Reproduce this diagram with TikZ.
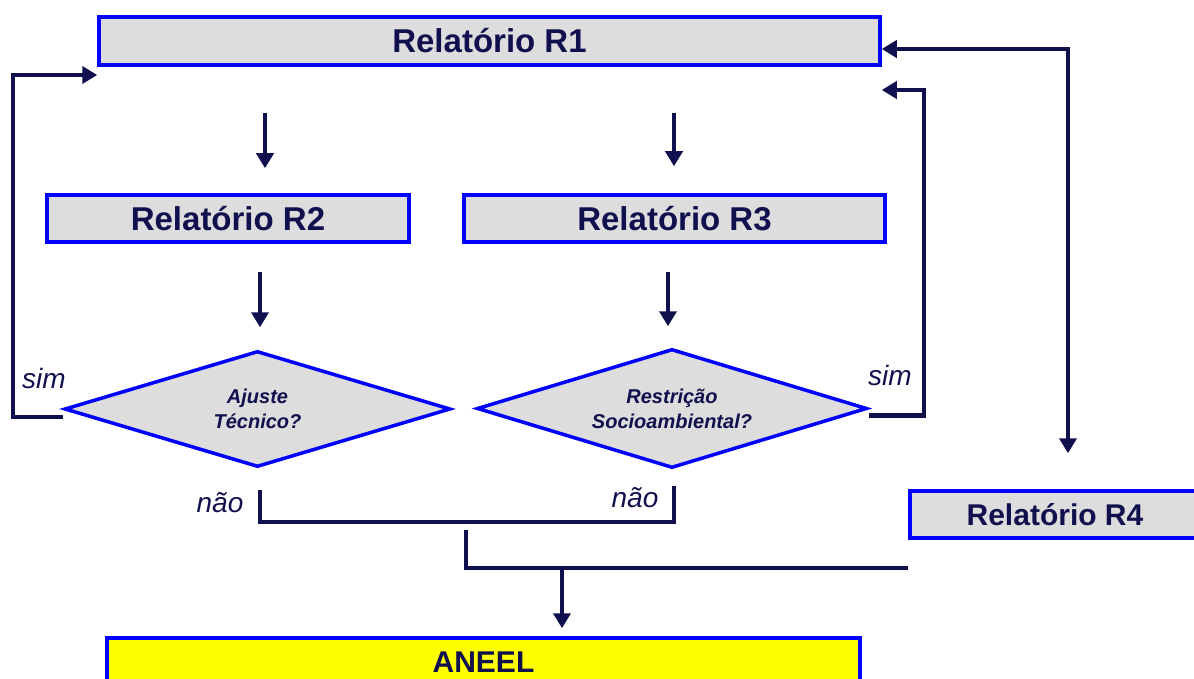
\documentclass[tikz,border=0pt]{standalone}
\usepackage{fontspec}
\setmainfont{Liberation Sans}
\usetikzlibrary{arrows.meta,shapes.geometric}
\definecolor{rpblue}{HTML}{0000FF}
\definecolor{rpnavy}{HTML}{10104E}
\definecolor{rpgray}{HTML}{DDDDDD}
\definecolor{rpyellow}{HTML}{FFFF00}
\tikzset{
  report/.style ={draw=rpblue, fill=rpgray, line width=3.5pt, inner sep=0pt,
                  text=rpnavy, font=\bfseries\fontsize{33}{36}\selectfont},
  final/.style  ={report, fill=rpyellow, font=\bfseries\fontsize{30}{33}\selectfont},
  decide/.style ={diamond, draw=rpblue, fill=rpgray, line width=3.5pt, inner sep=0pt,
                  aspect=3.3, text=rpnavy, align=center,
                  font=\bfseries\itshape\fontsize{20}{25}\selectfont},
  answer/.style ={text=rpnavy, inner sep=0pt, font=\itshape\fontsize{28}{30}\selectfont},
  wire/.style   ={draw=rpnavy, line width=4.5pt},
  flow/.style   ={wire, -{Triangle[length=15pt,width=17pt]}},
  twoway/.style ={wire, {Triangle[length=15pt,width=17pt]}-{Triangle[length=15pt,width=17pt]}},
}

\begin{document}
\begin{tikzpicture}[x=1pt,y=-1pt]
  \useasboundingbox (0,0) rectangle (1194,679);
  \node[report, minimum width=781pt, minimum height=48pt] (r1) at (489.5,41) {Relatório R1};
  \node[report, minimum width=362pt, minimum height=47pt] (r2) at (228,218.5) {Relatório R2};
  \node[report, minimum width=421pt, minimum height=47pt] (r3) at (674.5,218.5) {Relatório R3};
  \node[report, minimum width=290pt, minimum height=47pt,
        font=\bfseries\fontsize{30}{33}\selectfont] (r4) at (1055,514.5) {Relatório R4};
  \node[final, minimum width=753pt, minimum height=48pt] (aneel) at (483.5,662) {ANEEL};
  \node[decide, minimum width=386pt, minimum height=116pt] (d1) at (257.5,409) {Ajuste\\Técnico?};
  \node[decide, minimum width=390pt, minimum height=119pt] (d2) at (672,408.5) {Restrição\\Socioambiental?};
  \node[answer] (s1) at (44,378) {sim};
  \node[answer] (s2) at (890,375) {sim};
  \node[answer] (n1) at (220,503) {não};
  \node[answer] (n2) at (635,498) {não};
  \coordinate (a2) at (265,113);
  \coordinate (a3) at (674,113);
  \coordinate (b2) at (260,272);
  \coordinate (b3) at (668,272);
  \coordinate (lft) at (13,75);
  \coordinate (rgt) at (924,90);
  \coordinate (far) at (1068,49);
  \coordinate (nl) at (260,490);
  \coordinate (nj) at (260,522);
  \coordinate (nr) at (674,486);
  \coordinate (mt) at (466,530);
  \coordinate (mb) at (466,568);
  \coordinate (dn) at (562,568);
  \draw[flow, shorten >=25pt] (a2) -- (a2 |- r2.north);
  \draw[flow, shorten >=27pt] (a3) -- (a3 |- r3.north);
  \draw[flow, shorten >=22pt] (b2) -- (b2 |- d1.north);
  \draw[flow, shorten >=21pt] (b3) -- (b3 |- d2.north);
  \draw[flow] ([yshift=-8pt]d1.west) -| (lft) -- (lft -| r1.west);
  \draw[flow] ([yshift=-7pt]d2.east) -| (rgt) -- (rgt -| r1.east);
  \draw[twoway, shorten >=36pt] (far -| r1.east) -- (far) -- (far |- r4.north);
  \draw[wire] (nl) -- (nj) -| (nr);
  \draw[wire] (mt) -- (mb) -- (mb -| r4.west);
  \draw[flow, shorten >=8pt] (dn) -- (dn |- aneel.north);
\end{tikzpicture}
\end{document}
